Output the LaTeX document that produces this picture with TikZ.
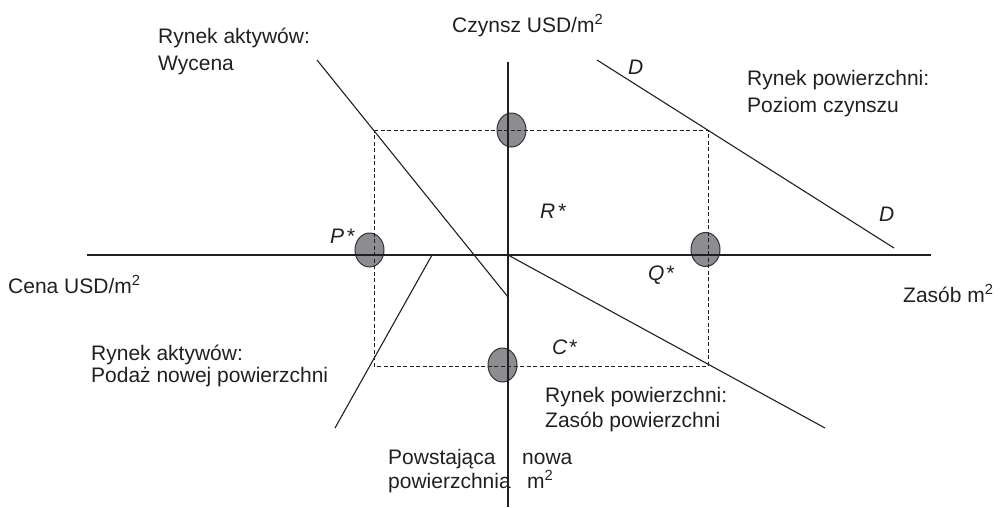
\documentclass[tikz,border=0pt]{standalone}
\usepackage{fontspec}
\setmainfont{Liberation Sans}
\usetikzlibrary{shapes.geometric}
\definecolor{ink}{RGB}{35,31,32}
\definecolor{dotfill}{RGB}{140,141,145}
\definecolor{dotline}{RGB}{50,50,52}
\tikzset{
  lbl/.style={anchor=base west, inner sep=0pt, font=\fontsize{21}{25}\selectfont, text=ink},
  dot/.style={ellipse, draw=dotline, fill=dotfill, line width=1pt, inner sep=0pt, minimum width=29pt, minimum height=34pt},
  curve/.style={draw=ink, line width=1.1pt},
  axis/.style={draw=ink, line width=1.1pt},
  guide/.style={draw=ink, line width=1pt, dash pattern=on 4pt off 2.5pt},
}
\newcommand{\sqm}{m\textsuperscript{2}}
\begin{document}
\begin{tikzpicture}[x=1pt,y=-1pt]
\useasboundingbox (0,0) rectangle (1000,507);
% equilibrium dots
\node[dot] (rdot) at (511.5,130) {};
\node[dot] (pdot) at (369.5,250) {};
\node[dot] (qdot) at (705.5,249.5) {};
\node[dot] (cdot) at (502.5,365) {};
% coordinates
\coordinate (xl) at (87,255);
\coordinate (xr) at (931,255);
\coordinate (yt) at (508,62);
\coordinate (yb) at (508,507);
\coordinate (o) at (508,255);
\coordinate (c1) at (374,130);
\coordinate (c2) at (708,130);
\coordinate (c3) at (708,366);
\coordinate (c4) at (374,366);
\coordinate (w1) at (317,60);
\coordinate (w2) at (508,297);
\coordinate (s1) at (335,428);
\coordinate (s2) at (432,255);
\coordinate (z2) at (825,428);
\coordinate (d1) at (597,60);
\coordinate (d2) at (894,248);
% dashed rectangle
\draw[guide] (c1) -- (c2) -- (c3) -- (c4) -- cycle;
% axes
\draw[axis] (xl) -- (xr);
\draw[axis] (yt) -- (yb);
% curves
\draw[curve] (w1) -- (w2);
\draw[curve] (s1) -- (s2);
\draw[curve] (o) -- (z2);
\draw[curve] (d1) -- (d2);
% labels
\node[lbl] (tczynsz) at (452,32) {Czynsz USD/\sqm};
\node[lbl] (twyc1) at (158,43) {Rynek aktywów:};
\node[lbl] (twyc2) at (158,70) {Wycena};
\node[lbl] (tpoz1) at (747,85) {Rynek powierzchni:};
\node[lbl] (tpoz2) at (747,112) {Poziom czynszu};
\node[lbl] (tdA) at (628,74) {\textit{D}};
\node[lbl] (tdB) at (879,221) {\textit{D}};
\node[lbl] (tr) at (540,218) {\textit{R\kern2pt*}};
\node[lbl] (tp) at (330,243) {\textit{P\kern2pt*}};
\node[lbl] (tq) at (648,280) {\textit{Q\kern1pt*}};
\node[lbl] (tc) at (552,354) {\textit{C\kern1pt*}};
\node[lbl] (tcena) at (8,293) {Cena USD/\sqm};
\node[lbl] (tzasob) at (903,302) {Zasób \sqm};
\node[lbl] (tpod1) at (91,360) {Rynek aktywów:};
\node[lbl] (tpod2) at (91,382) {Podaż nowej powierzchni};
\node[lbl] (tzas1) at (545,402) {Rynek powierzchni:};
\node[lbl] (tzas2) at (545,427) {Zasób powierzchni};
\node[lbl, align=left, font=\fontsize{21}{21}\selectfont] (tpow) at (388,488)
  {\makebox[134pt][l]{Powstająca}nowa\\\makebox[139pt][l]{powierzchnia}\sqm};
\end{tikzpicture}
\end{document}
